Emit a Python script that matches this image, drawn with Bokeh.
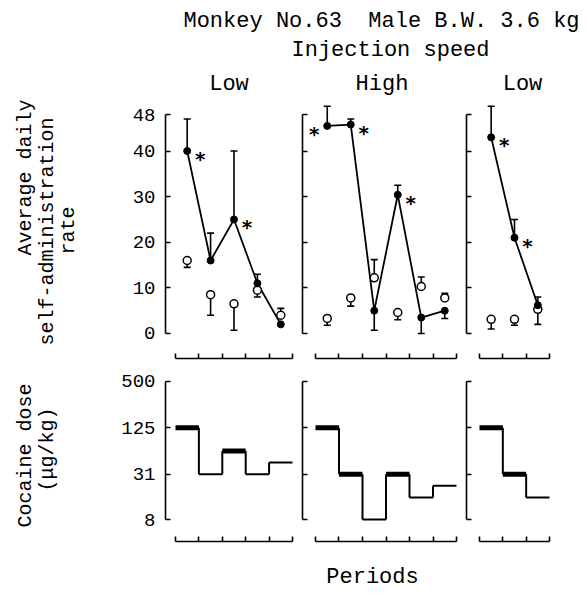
import math
from bokeh.plotting import figure
from bokeh.layouts import row, column
from bokeh.models import Range1d, FixedTicker, ColumnDataSource, PrintfTickFormatter, CustomJSTickFormatter
from bokeh.core.properties import value
from bokeh.embed import file_html
from bokeh.resources import INLINE

# ---------------- data ----------------
title_text = "Monkey No.63\u00a0 Male B.W. 3.6 kg"
speed_title = "Injection speed"
speed_labels = ["Low", "High", "Low"]
rate_label_lines = ["Average daily", "self-administration", "rate"]
dose_label_lines = ["Cocaine dose", "(\u03bcg/kg)"]
x_label = "Periods"

rate_ticks = [0, 10, 20, 30, 40, 48]
dose_ticks = [8, 31, 125, 500]

# panel 1 : Low speed
filled_low1 = [40, 16, 25, 11, 2]
filled_low1_tip = [47, 22, 40, 13, None]
open_low1 = [16, 8.5, 6.5, 9.5, 4]
open_low1_tip = [14.5, 4, 0.7, 8, 5.5]
stars_low1 = [0, 2]
dose_low1 = [125, 31, 62.5, 31, 44]

# panel 2 : High speed
filled_high = [45.5, 45.8, 5, 30.4, 3.5, 5]
filled_high_tip = [49.8, 47, 0.7, 32.5, 0, 3.3]
open_high = [3.3, 7.8, 12.2, 4.6, 10.3, 7.8]
open_high_tip = [1.8, 6, 16.2, 3, 12.4, 8.8]
stars_high = [0, 1, 3]
dose_high = [125, 31, 8, 31, 15.5, 22]

# panel 3 : Low speed
filled_low2 = [43, 21, 6.2]
filled_low2_tip = [49.8, 25, 8]
open_low2 = [3.1, 3.1, 5.3]
open_low2_tip = [1, 1.8, 2]
stars_low2 = [0, 1]
dose_low2 = [125, 31, 15.5]

# ---------------- styles ----------------
FONT = "Liberation Mono"
thick_low1 = [True, False, True, False, False]
thick_high = [True, True, False, True, False, False]
thick_low2 = [True, True, False]
star_side_high = [-1, 1, 1]

TOP_H = 266
BOT_H = 190
TOP_YR = (-5.48, 51.07)
BOT_YR = (4.14, 598)

EMPTY = CustomJSTickFormatter(code="return ''")


def style_common(p):
    p.xgrid.visible = False
    p.ygrid.visible = False
    p.outline_line_color = None
    p.background_fill_color = "white"
    p.border_fill_color = "white"


def style_axes(p, n, yticks, ybounds, show_labels):
    xa = p.xaxis[0]
    xa.ticker = FixedTicker(ticks=list(range(n + 1)))
    xa.bounds = (0, n)
    xa.major_tick_in = 5
    xa.major_tick_out = 0
    xa.minor_tick_line_color = None
    xa.formatter = EMPTY
    xa.major_label_text_font_size = "1px"
    xa.major_label_standoff = 0
    xa.axis_line_width = 1.6
    xa.major_tick_line_width = 1.6
    ya = p.yaxis[0]
    ya.ticker = FixedTicker(ticks=yticks)
    ya.bounds = ybounds
    ya.major_tick_in = 5
    ya.major_tick_out = 0
    ya.minor_tick_line_color = None
    ya.axis_line_width = 1.6
    ya.major_tick_line_width = 1.6
    if show_labels:
        ya.formatter = PrintfTickFormatter(format="%d")
        ya.major_label_text_font = FONT
        ya.major_label_text_font_size = "19px"
        ya.major_label_text_color = "black"
        ya.major_label_standoff = 10
    else:
        ya.formatter = EMPTY
        ya.major_label_text_font_size = "1px"
        ya.major_label_standoff = 0


def top_panel(width, mb_left, mb_right, xr, filled, ftip, opn, otip, stars, sides, show_labels):
    p = figure(width=width, height=TOP_H, x_range=Range1d(*xr), y_range=Range1d(*TOP_YR),
               output_backend="svg", toolbar_location=None,
               min_border_left=mb_left, min_border_right=mb_right,
               min_border_top=1, min_border_bottom=7)
    style_common(p)
    n = len(filled)
    xs = [i + 0.5 for i in range(n)]
    p.line(xs, filled, line_color="black", line_width=1.8)
    # error bars
    fx = [x for x, t in zip(xs, ftip) if t is not None]
    fv = [v for v, t in zip(filled, ftip) if t is not None]
    ft = [t for t in ftip if t is not None]
    p.segment(x0=fx, y0=fv, x1=fx, y1=ft, line_color="black", line_width=1.6)
    p.scatter(fx, ft, marker="dash", size=7, line_color="black", line_width=1.6)
    p.segment(x0=xs, y0=opn, x1=xs, y1=otip, line_color="black", line_width=1.6)
    p.scatter(xs, otip, marker="dash", size=7, line_color="black", line_width=1.6)
    p.scatter(xs, opn, marker="circle", size=8, fill_color="white", line_color="black", line_width=1.5)
    p.scatter(xs, filled, marker="circle", size=7, fill_color="black", line_color="black")
    # stars
    sx = [xs[i] for i in stars]
    sy = [filled[i] for i in stars]
    offs = [13 * s for s in sides]
    src = ColumnDataSource(dict(x=sx, y=sy, xo=offs))
    p.text(x="x", y="y", x_offset="xo", y_offset=8, text=value("*"), source=src,
           text_font=value("DejaVu Sans"), text_font_style="bold", text_font_size="20px",
           text_align="center", text_baseline="alphabetic", text_color="black")
    style_axes(p, n, rate_ticks, (0, 48), show_labels)
    return p


def bottom_panel(width, mb_left, mb_right, xr, dose, thick, show_labels):
    p = figure(width=width, height=BOT_H, x_range=Range1d(*xr), y_range=Range1d(*BOT_YR),
               y_axis_type="log", output_backend="svg", toolbar_location=None,
               min_border_left=mb_left, min_border_right=mb_right,
               min_border_top=10, min_border_bottom=14)
    style_common(p)
    n = len(dose)
    hsrc = ColumnDataSource(dict(x0=list(range(n)), x1=[i + 1 for i in range(n)],
                                 y=dose, w=[5 if t else 2 for t in thick]))
    p.segment(x0="x0", y0="y", x1="x1", y1="y", line_width="w", line_color="black", source=hsrc)
    vx = [i + 1 for i in range(n - 1)]
    p.segment(x0=vx, y0=dose[:-1], x1=vx, y1=dose[1:], line_color="black", line_width=2)
    style_axes(p, n, dose_ticks, (8, 500), show_labels)
    return p


def blank(width, height):
    p = figure(width=width, height=height, x_range=Range1d(0, width), y_range=Range1d(0, height),
               output_backend="svg", toolbar_location=None,
               min_border_left=0, min_border_right=0, min_border_top=0, min_border_bottom=0)
    style_common(p)
    p.axis.visible = False
    return p


def txt(p, x, y, s, size, angle=0.0):
    p.text(x=[x], y=[y], text=[s], angle=angle, text_font=value(FONT), text_font_size=size,
           text_align="center", text_baseline="middle", text_color="black")


# x ranges (data units), chosen so the period brackets line up like the original
XR1 = (-0.427, 5.171)
XR2 = (-0.553, 6.255)
XR3 = (-0.557, 4.286)

t1 = top_panel(198, 65, 2, XR1, filled_low1, filled_low1_tip, open_low1, open_low1_tip, stars_low1, [1, 1], True)
t2 = top_panel(164, 4, 0, XR2, filled_high, filled_high_tip, open_high, open_high_tip, stars_high, star_side_high, False)
t3 = top_panel(117, 4, 0, XR3, filled_low2, filled_low2_tip, open_low2, open_low2_tip, stars_low2, [1, 1], False)

b1 = bottom_panel(198, 65, 2, XR1, dose_low1, thick_low1, True)
b2 = bottom_panel(164, 4, 0, XR2, dose_high, thick_high, False)
b3 = bottom_panel(117, 4, 0, XR3, dose_low2, thick_low2, False)

# header
HW, HH = 579, 99
header = blank(HW, HH)
txt(header, 381, HH - 21, title_text, "22px")
txt(header, 390, HH - 50, speed_title, "22px")
for cx, lab in zip([228.5, 381.5, 522], speed_labels):
    txt(header, cx, HH - 84, lab, "22px")

# left labels
LW, LH = 100, TOP_H + BOT_H
left = blank(LW, LH)
for cx, cy, lab in zip([25, 47, 68], [177, 231, 230], rate_label_lines):
    txt(left, cx, LH - (cy - HH), lab, "20px", math.pi / 2)
for cx, cy, lab in zip([25, 47], [455, 449], dose_label_lines):
    txt(left, cx, LH - (cy - HH), lab, "20px", math.pi / 2)

# footer
FH = 37
footer = blank(HW, FH)
txt(footer, 372, FH - (577 - 555), x_label, "22px")

layout = column(header,
                row(left, column(row(t1, t2, t3, spacing=0), row(b1, b2, b3, spacing=0), spacing=0), spacing=0),
                footer, spacing=0)

open("out.html", "w").write(file_html(layout, INLINE))
